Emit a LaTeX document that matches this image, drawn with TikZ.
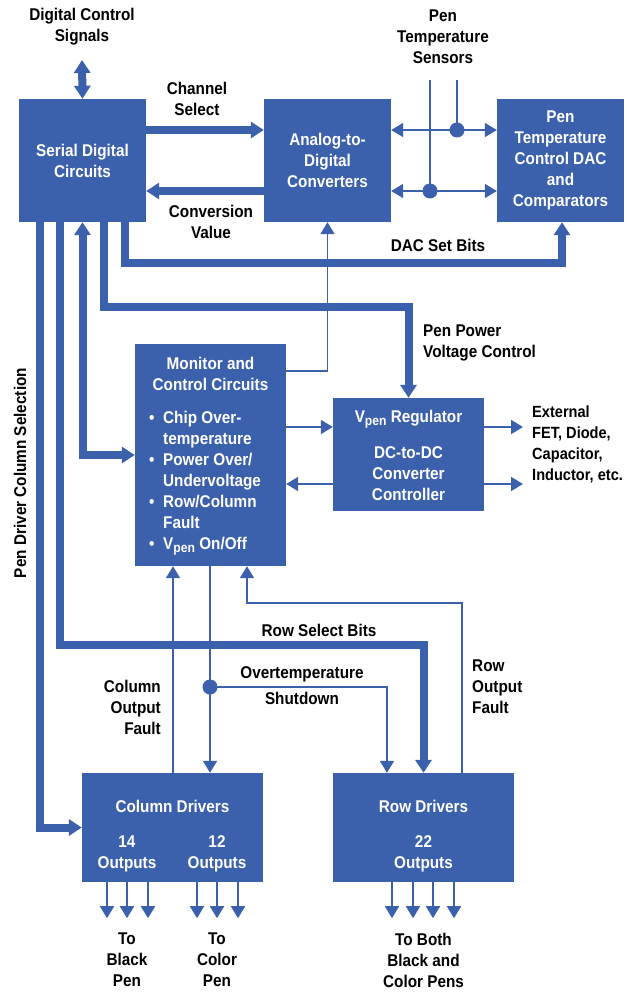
\documentclass[tikz,border=0pt]{standalone}
\usepackage{fontspec}
\setmainfont{Liberation Sans}[FakeStretch=0.9]
\usepackage{tikz}
\usetikzlibrary{arrows.meta}
\definecolor{hpblue}{RGB}{59,96,172}
\newcommand{\vpen}{V\raisebox{-3.5pt}{\fontsize{13.5}{13.5}\selectfont pen}}
\newcommand{\bul}{\makebox[14pt][l]{\textbullet}}

\begin{document}
\begin{tikzpicture}
            [x=1pt,y=-1pt,
             every node/.style={font=\bfseries\fontsize{17}{21}\selectfont,align=center,inner sep=0pt},
             block/.style={rectangle,fill=hpblue,text=white},
             bus/.style={draw=hpblue,line width=8pt,-{Triangle[width=16pt,length=13pt]}},
             sig/.style={draw=hpblue,line width=1.8pt,-{Triangle[width=14pt,length=12pt]}},
             dot/.style={circle,fill=hpblue,minimum size=15pt}]

            \useasboundingbox (0,0) rectangle (626,992);

            \node[block,minimum width=127pt,minimum height=123pt] (sdc) at (82.5,160.5) {Serial Digital\\Circuits};
            \node[block,minimum width=127pt,minimum height=123pt] (adc) at (327.5,160.5) {Analog-to-\\Digital\\Converters};
            \node[block,minimum width=127pt,minimum height=123pt] (dac) at (560.5,160.5) {Pen\\Temperature\\Control DAC\\and\\Comparators};
            \node[block,minimum width=151pt,minimum height=222pt] (mon) at (210.5,455) {};
            \node[block,minimum width=151pt,minimum height=113pt] (reg) at (408.5,454.5) {};
            \node[block,minimum width=181pt,minimum height=109pt] (col) at (172.5,827.5) {};
            \node[block,minimum width=181pt,minimum height=109pt] (row) at (423.5,827.5) {};

            \node[text=white] (montitle) at (210.5,373.5) {Monitor and\\Control Circuits};
            \node[text=white,anchor=west,align=left] (monlist) at (149,483)
              {\bul Chip Over-\\\hspace*{14pt}temperature\\\bul Power Over/\\\hspace*{14pt}Undervoltage\\\bul Row/Column\\\hspace*{14pt}Fault\\\bul \vpen{} On/Off};
            \node[text=white] (regtitle) at (408.5,419) {\vpen{} Regulator};
            \node[text=white] (regtext) at (408.5,473.5) {DC-to-DC\\Converter\\Controller};
            \node[text=white] (coltitle) at (172.5,806) {Column Drivers};
            \node[text=white] (colblack) at (127,853.5) {14\\Outputs};
            \node[text=white] (colcolor) at (217,853.5) {12\\Outputs};
            \node[text=white] (rowtitle) at (423.5,806) {Row Drivers};
            \node[text=white] (rowout) at (423.5,853.5) {22\\Outputs};

            \node (dcs) at (82,27) {Digital Control\\Signals};
            \node (chsel) at (197,99) {Channel\\Select};
            \node (convval) at (211,222) {Conversion\\Value};
            \node (sensors) at (443,37) {Pen\\Temperature\\Sensors};
            \node (dacbits) at (438,245) {DAC Set Bits};
            \node[anchor=west,align=left] (ppvc) at (423,343) {Pen Power\\Voltage Control};
            \node[anchor=west,align=left,font=\bfseries\fontsize{16.2}{21}\selectfont] (ext) at (532,444) {External\\FET, Diode,\\Capacitor,\\Inductor, etc.};
            \node (rowsel) at (319,630) {Row Select Bits};
            \node (otemp) at (302,686) {Overtemperature\\[5pt]Shutdown};
            \node[anchor=east,align=right] (colfault) at (161,707) {Column\\Output\\Fault};
            \node[anchor=west,align=left] (rowfault) at (472,687) {Row\\Output\\Fault};
            \node[rotate=90] (pdcs) at (20,473) {Pen Driver Column Selection};
            \node (toblack) at (127,960) {To\\Black\\Pen};
            \node (tocolor) at (217,960) {To\\Color\\Pen};
            \node (toboth) at (423.5,960) {To Both\\Black and\\Color Pens};

            \coordinate (dcsend) at (82,60);
            \coordinate (sensa) at (430,80);
            \coordinate (sensb) at (457,80);
            \coordinate (dacbend) at (562,263);
            \coordinate (regbend) at (408.5,307);
            \coordinate (rowbend) at (423.5,645);
            \coordinate (rfbend) at (247,603);
            \coordinate (exta) at (523,427);
            \coordinate (extb) at (523,484);

            \draw[bus,{Triangle[width=16pt,length=13pt]}-{Triangle[width=16pt,length=13pt]}] (sdc.north) -- (dcsend);
            \draw[bus] (sdc.east |- 0,130) -- (adc.west |- 0,130);
            \draw[bus] (adc.west |- 0,191) -- (sdc.east |- 0,191);
            \draw[bus] (sdc.south -| 124.5,0) |- (dacbend) -- (dac.south -| dacbend);
            \draw[bus] (sdc.south -| 103.5,0) |- (regbend) -- (reg.north);
            \draw[bus,{Triangle[width=16pt,length=13pt]}-{Triangle[width=16pt,length=13pt]}] (sdc.south) |- (mon.west);
            \draw[bus] (sdc.south -| 60,0) |- (rowbend) -- (row.north);
            \draw[bus] (sdc.south -| 39.5,0) |- (col.west);

            \draw[sig,-] (sensb) -- (sensb |- 0,130) node[dot] (dotb) {};
            \draw[sig,-] (sensa) -- (sensa |- 0,191) node[dot] (dota) {};
            \draw[sig,{Triangle[width=14pt,length=12pt]}-{Triangle[width=14pt,length=12pt]}] (adc.east |- dotb) -- (dac.west |- dotb);
            \draw[sig,{Triangle[width=14pt,length=12pt]}-{Triangle[width=14pt,length=12pt]}] (adc.east |- dota) -- (dac.west |- dota);

            \draw[sig] (mon.east |- 0,371) -| (adc.south);
            \draw[sig] (mon.east |- exta) -- (reg.west |- exta);
            \draw[sig] (reg.west |- extb) -- (mon.east |- extb);
            \draw[sig] (reg.east |- exta) -- (exta);
            \draw[sig] (reg.east |- extb) -- (extb);

            \draw[sig] (col.north -| 173,0) -- (mon.south -| 173,0);
            \draw[sig] (mon.south -| 210,0) -- (col.north -| 210,0);
            \node[dot] (otdot) at (210,687) {};
            \draw[sig] (otdot.center) -| (row.north -| 387,0);
            \draw[sig] (row.north -| 462,0) |- (rfbend) -- (mon.south -| rfbend);

            \foreach \x in {107,127,148,197,217,238}
              \draw[sig] (col.south -| \x,0) -- ++(0,36);
            \foreach \x in {392,413,433,454}
              \draw[sig] (row.south -| \x,0) -- ++(0,36);

          \end{tikzpicture}
\end{document}
